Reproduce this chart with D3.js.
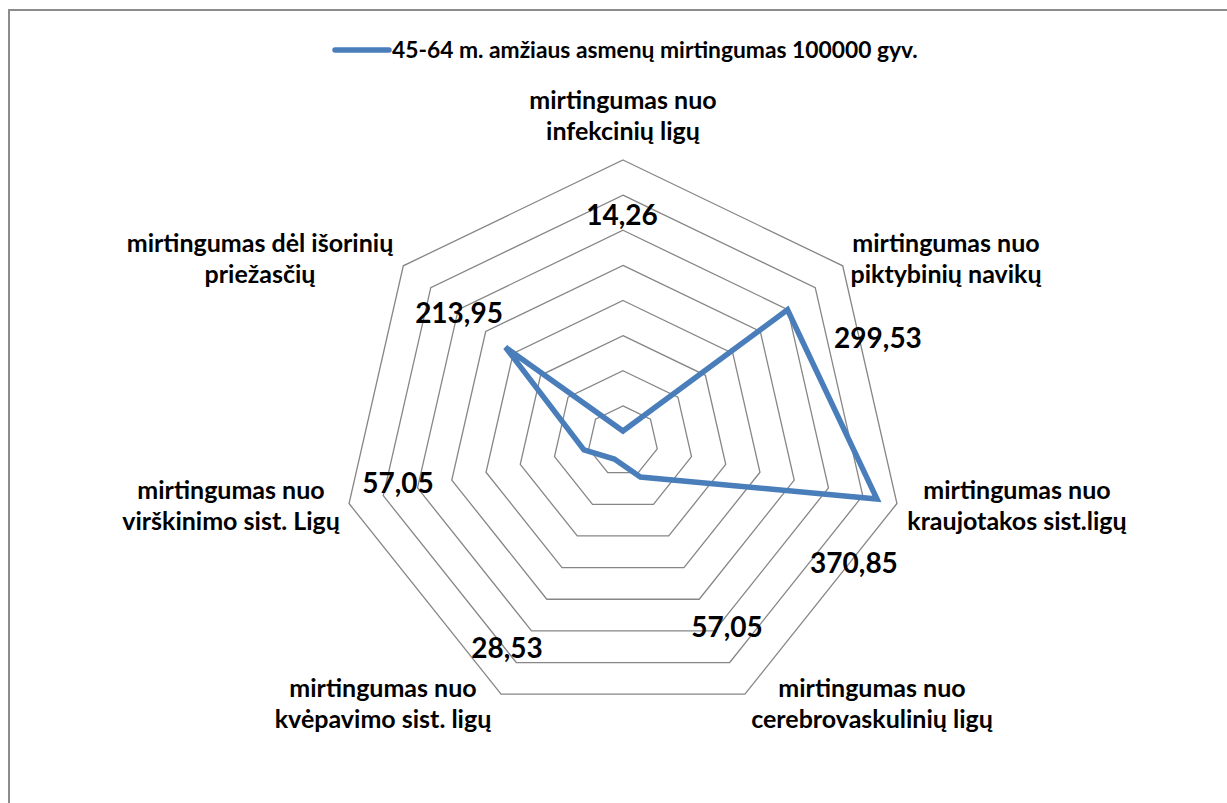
<!DOCTYPE html>
<html>
<head>
<meta charset="utf-8">
<script src="https://cdn.jsdelivr.net/npm/d3@7"></script>
<style>
  html, body { margin: 0; padding: 0; background: #fff; }
  svg { display: block; }
  text { font-family: Lato, "Open Sans", sans-serif; font-weight: bold; fill: #000; }
</style>
</head>
<body>
<svg id="chart" width="1227" height="803"></svg>
<script>
// ---- data ----
const seriesName = "45-64 m. amžiaus asmenų mirtingumas 100000 gyv.";
const categories = [
  ["mirtingumas nuo", "infekcinių ligų"],
  ["mirtingumas nuo", "piktybinių navikų"],
  ["mirtingumas nuo", "kraujotakos sist.ligų"],
  ["mirtingumas nuo", "cerebrovaskulinių ligų"],
  ["mirtingumas nuo", "kvėpavimo sist. ligų"],
  ["mirtingumas nuo", "virškinimo sist. Ligų"],
  ["mirtingumas dėl išorinių", "priežasčių"]
];
const values = [14.26, 299.53, 370.85, 57.05, 28.53, 57.05, 213.95];
const gridTicks = [50, 100, 150, 200, 250, 300, 350, 400];

// ---- layout (label placement relative to chart centre) ----
const catLabelOffsets = [[0,-325],[323,-182],[394,65],[249,263],[-240,263],[-392,65],[-363,-182]];
const valueLabelOffsets = [[-1,-226],[255,-103],[231,122],[104,186],[-116,207],[-225,42],[-164,-128]];

const svg = d3.select("#chart");
const W = 1227, H = 803;
const cx = 623, cy = 441, R = 281;
const blue = "#4a7ebb";

// chart border
svg.append("rect").attr("x", 9).attr("y", 10).attr("width", W + 20).attr("height", H + 20)
  .attr("fill", "none").attr("stroke", "#8c8c8c").attr("stroke-width", 2);

const r = d3.scaleLinear().domain([0, 400]).range([0, R]);
const n = categories.length;
const angle = d3.scaleLinear().domain([0, n]).range([0, 2 * Math.PI]);

const g = svg.append("g").attr("transform", `translate(${cx},${cy})`);

// grid rings
const ringLine = d3.lineRadial().angle((d, i) => angle(i)).radius(d => r(d)).curve(d3.curveLinearClosed);
g.selectAll("path.ring").data(gridTicks).enter().append("path")
  .attr("class", "ring")
  .attr("d", t => ringLine(d3.range(n).map(() => t)))
  .attr("fill", "none").attr("stroke", "#868686").attr("stroke-width", 1.3);

// data polygon
const dataLine = d3.lineRadial().angle((d, i) => angle(i)).radius(d => r(d)).curve(d3.curveLinearClosed);
g.append("path").datum(values).attr("d", dataLine)
  .attr("fill", "none").attr("stroke", blue).attr("stroke-width", 5.5)
  .attr("stroke-linejoin", "miter");

// category labels
const cat = g.selectAll("text.cat").data(categories).enter().append("text")
  .attr("class", "cat")
  .attr("text-anchor", "middle")
  .attr("font-size", 25)
  .attr("transform", (d, i) => `translate(${catLabelOffsets[i][0]},${catLabelOffsets[i][1]})`);
cat.each(function(d) {
  const t = d3.select(this);
  d.forEach((line, j) => {
    t.append("tspan").attr("x", 0).attr("y", (j - (d.length - 1) / 2) * 31).attr("dy", "0.35em").text(line);
  });
});

// value labels
const loc = d3.formatLocale({decimal: ",", thousands: " ", grouping: [3], currency: ["", ""]});
const fmt = loc.format(".2f");
g.selectAll("text.val").data(values).enter().append("text")
  .attr("class", "val")
  .attr("text-anchor", "middle")
  .attr("font-size", 28)
  .attr("x", (d, i) => valueLabelOffsets[i][0])
  .attr("y", (d, i) => valueLabelOffsets[i][1])
  .attr("dy", "0.35em")
  .text(d => fmt(d));

// legend
const lg = svg.append("g").attr("transform", "translate(335,50)");
lg.append("line").attr("x1", 0).attr("x2", 54).attr("y1", 0).attr("y2", 0)
  .attr("stroke", blue).attr("stroke-width", 5.5).attr("stroke-linecap", "round");
lg.append("text").attr("x", 57).attr("y", 0).attr("dy", "0.35em").attr("font-size", 22.8).text(seriesName);
</script>
</body>
</html>
